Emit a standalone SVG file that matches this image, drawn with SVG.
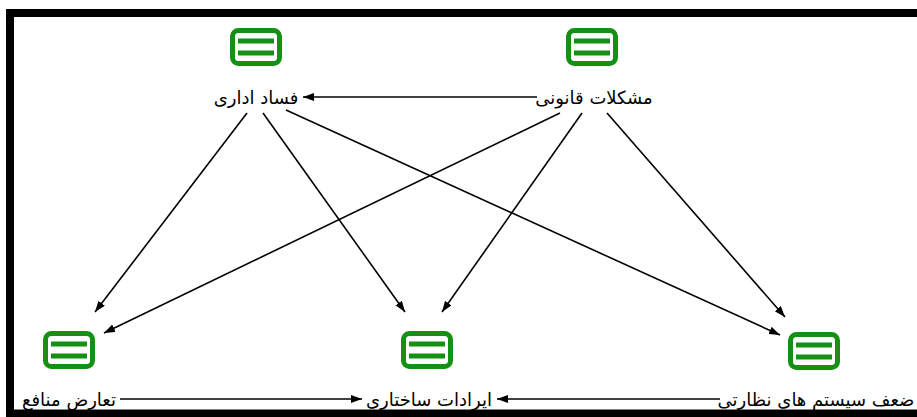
<svg xmlns="http://www.w3.org/2000/svg" width="917" height="417" viewBox="0 0 917 417">
<style>
.lbl{font-family:"DejaVu Sans","Noto Sans",sans-serif;font-size:18px;fill:#000;text-anchor:middle}
.edge{stroke:#000;stroke-width:1.6;fill:none;marker-end:url(#arr)}
.ibox{fill:#fff;stroke:#159015;stroke-width:5}
.ibar{fill:#159015}
</style>
<defs>
<marker id="arr" markerUnits="userSpaceOnUse" markerWidth="12" markerHeight="10" refX="11" refY="4" orient="auto">
<path d="M0,0 L11,4 L0,8 Z" fill="#000"/>
</marker>
<g id="icon">
<rect class="ibox" x="-23.5" y="-16.5" width="47" height="33" rx="6"/>
<rect class="ibar" x="-18" y="-8.5" width="36" height="5"/>
<rect class="ibar" x="-18" y="3.5" width="36" height="5"/>
</g>
</defs>
<rect x="0" y="0" width="917" height="417" fill="#fff"/>
<rect x="10" y="13" width="930" height="400.5" fill="none" stroke="#000" stroke-width="8"/>
<g id="connectors">
<path class="edge" d="M537,97 L303,97"/>
<path class="edge" d="M247,113 L95,312"/>
<path class="edge" d="M263,113 L405,312"/>
<path class="edge" d="M286,110 L780,335"/>
<path class="edge" d="M560,113 L104,333"/>
<path class="edge" d="M582,113 L442,312"/>
<path class="edge" d="M607,113 L785,317"/>
<path class="edge" d="M120,399 L362,399"/>
<path class="edge" d="M720,399 L497,399"/>
</g>
<g id="n_fesad"><use href="#icon" x="256" y="47"/><text class="lbl" x="256" y="104">فساد اداری</text></g>
<g id="n_moshkelat"><use href="#icon" x="592" y="47"/><text class="lbl" x="594" y="104">مشکلات قانونی</text></g>
<g id="n_taarod"><use href="#icon" x="69" y="350"/><text class="lbl" x="69" y="406">تعارض منافع</text></g>
<g id="n_iradat"><use href="#icon" x="427" y="350"/><text class="lbl" x="429" y="406">ایرادات ساختاری</text></g>
<g id="n_zaaf"><use href="#icon" x="814" y="351"/><text class="lbl" x="816" y="406">ضعف سیستم های نظارتی</text></g>
</svg>
